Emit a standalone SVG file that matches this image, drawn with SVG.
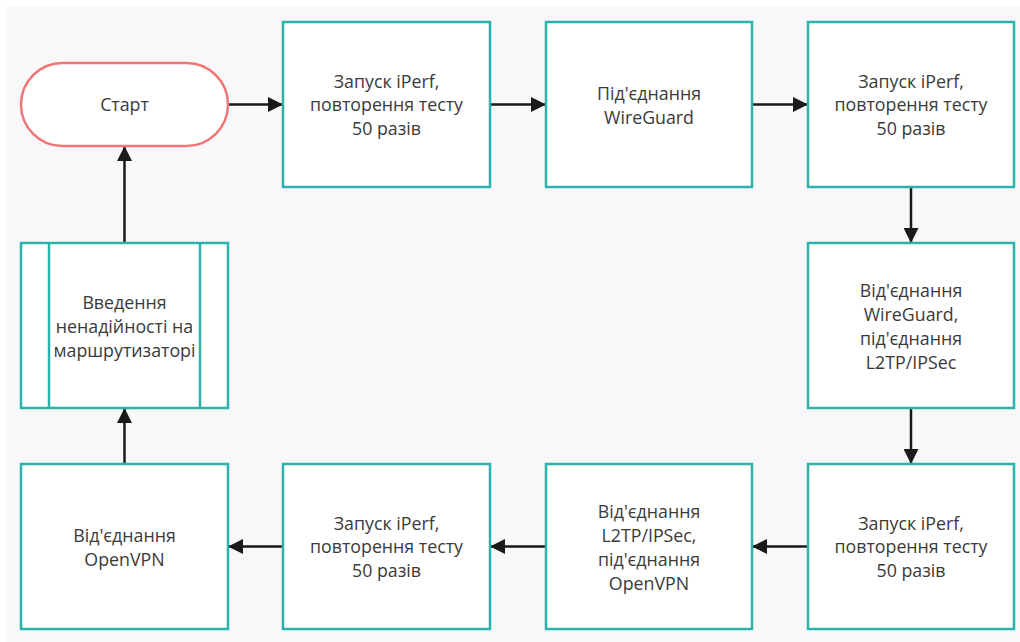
<svg xmlns="http://www.w3.org/2000/svg" width="1020" height="642" viewBox="0 0 1020 642">
<defs>
<style>
.box{fill:#ffffff;stroke:#2ab3ad;stroke-width:2.5}
.start{fill:#ffffff;stroke:#f07676;stroke-width:2.5}
.t{font-family:"Open Sans","Noto Sans",sans-serif;font-size:17.8px;fill:#3a3a3a;text-anchor:middle}
.c{fill:none;stroke:#1a1a1a;stroke-width:2.5}
</style>
<marker id="ah" viewBox="0 0 10 10" refX="10" refY="5" markerWidth="6" markerHeight="6" markerUnits="strokeWidth" orient="auto">
<path d="M0,0 L10,5 L0,10 z" fill="#1a1a1a"/>
</marker>
</defs>
<rect x="0" y="0" width="1020" height="642" fill="#ffffff"/>
<rect x="7" y="6" width="1013" height="636" fill="#f8f8fa"/>

<g id="connectors">
<line class="c" x1="228" y1="104.5" x2="283" y2="104.5" marker-end="url(#ah)"/>
<line class="c" x1="490" y1="104.5" x2="546" y2="104.5" marker-end="url(#ah)"/>
<line class="c" x1="752" y1="104.5" x2="808" y2="104.5" marker-end="url(#ah)"/>
<line class="c" x1="911" y1="187" x2="911" y2="243" marker-end="url(#ah)"/>
<line class="c" x1="911" y1="408" x2="911" y2="464" marker-end="url(#ah)"/>
<line class="c" x1="808" y1="546.5" x2="752" y2="546.5" marker-end="url(#ah)"/>
<line class="c" x1="546" y1="546.5" x2="490" y2="546.5" marker-end="url(#ah)"/>
<line class="c" x1="283" y1="546.5" x2="228" y2="546.5" marker-end="url(#ah)"/>
<line class="c" x1="124.5" y1="464" x2="124.5" y2="408" marker-end="url(#ah)"/>
<line class="c" x1="124.5" y1="243" x2="124.5" y2="146" marker-end="url(#ah)"/>
</g>

<g id="start">
<rect class="start" x="21" y="63" width="207" height="83" rx="41.5" ry="41.5"/>
<text class="t" x="124.5" y="111">Старт</text>
</g>

<g id="iperf1">
<rect class="box" x="283" y="22" width="207" height="165"/>
<text class="t" x="386.5" y="88">Запуск iPerf,</text>
<text class="t" x="386.5" y="111">повторення тесту</text>
<text class="t" x="386.5" y="135">50 разів</text>
</g>

<g id="wg-connect">
<rect class="box" x="546" y="22" width="206" height="165"/>
<text class="t" x="649" y="100">Під'єднання</text>
<text class="t" x="649" y="124">WireGuard</text>
</g>

<g id="iperf2">
<rect class="box" x="808" y="22" width="206" height="165"/>
<text class="t" x="911" y="88">Запуск iPerf,</text>
<text class="t" x="911" y="111">повторення тесту</text>
<text class="t" x="911" y="135">50 разів</text>
</g>

<g id="l2tp-connect">
<rect class="box" x="808" y="243" width="206" height="165"/>
<text class="t" x="911" y="297">Від'єднання</text>
<text class="t" x="911" y="321">WireGuard,</text>
<text class="t" x="911" y="345">під'єднання</text>
<text class="t" x="911" y="369">L2TP/IPSec</text>
</g>

<g id="iperf3">
<rect class="box" x="808" y="464" width="206" height="165"/>
<text class="t" x="911" y="530">Запуск iPerf,</text>
<text class="t" x="911" y="553">повторення тесту</text>
<text class="t" x="911" y="577">50 разів</text>
</g>

<g id="ovpn-connect">
<rect class="box" x="546" y="464" width="206" height="165"/>
<text class="t" x="649" y="518">Від'єднання</text>
<text class="t" x="649" y="542">L2TP/IPSec,</text>
<text class="t" x="649" y="566">під'єднання</text>
<text class="t" x="649" y="590">OpenVPN</text>
</g>

<g id="iperf4">
<rect class="box" x="283" y="464" width="207" height="165"/>
<text class="t" x="386.5" y="530">Запуск iPerf,</text>
<text class="t" x="386.5" y="553">повторення тесту</text>
<text class="t" x="386.5" y="577">50 разів</text>
</g>

<g id="ovpn-disconnect">
<rect class="box" x="21" y="464" width="207" height="165"/>
<text class="t" x="124.5" y="542">Від'єднання</text>
<text class="t" x="124.5" y="566">OpenVPN</text>
</g>

<g id="router-fault">
<rect class="box" x="21" y="243" width="207" height="165"/>
<line class="box" x1="49" y1="243" x2="49" y2="408"/>
<line class="box" x1="200" y1="243" x2="200" y2="408"/>
<text class="t" x="124.5" y="309">Введення</text>
<text class="t" x="124.5" y="333">ненадійності на</text>
<text class="t" x="124.5" y="357">маршрутизаторі</text>
</g>
</svg>
